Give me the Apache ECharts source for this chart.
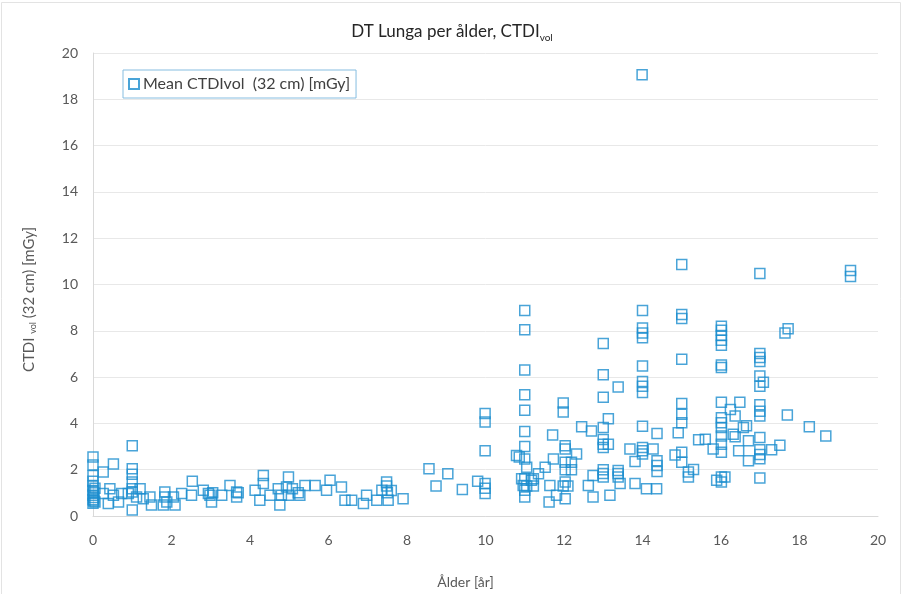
<!DOCTYPE html>
<html>
<head>
<meta charset="utf-8">
<script src="https://cdn.jsdelivr.net/npm/echarts@6/dist/echarts.min.js"></script>
<style>
  html, body { margin: 0; padding: 0; background: #ffffff; }
  #chart { width: 904px; height: 594px; }
</style>
</head>
<body>
<div id="chart"></div>
<script>
// Patient age in years and mean CTDIvol (32 cm phantom) in mGy, one entry per exam.
const ageYears = [
  0.0, 0.0, 0.0, 0.0, 0.0, 0.0, 0.0, 0.0, 0.0, 0.02, 0.02, 0.02, 0.05, 0.05,
  0.26, 0.26, 0.43, 0.39, 0.52, 0.52, 0.65, 0.73, 0.9,
  1.0, 1.0, 1.0, 1.0, 1.0, 1.0, 1.0, 1.11, 1.2, 1.28, 1.45, 1.49,
  1.79, 1.83, 1.83, 1.88, 2.05, 2.09, 2.26, 2.51, 2.53, 2.81, 2.94, 2.98, 3.02, 3.05,
  3.28, 3.49, 3.66, 3.66, 3.7,
  4.13, 4.34, 4.34, 4.25, 4.51, 4.72, 4.8, 4.76, 4.93, 4.98, 4.98, 5.08, 5.23, 5.27,
  5.4, 5.66, 5.95, 6.04, 6.33, 6.42, 6.59, 6.89, 6.97,
  7.23, 7.36, 7.48, 7.48, 7.5, 7.52, 7.6, 7.9,
  8.56, 8.74, 9.04, 9.41, 9.8,
  9.99, 9.99, 9.99, 9.99, 9.99, 9.99,
  10.79, 10.86, 10.92, 10.96,
  11.0, 11.0, 11.0, 11.0, 11.0, 11.0, 11.0, 11.0, 11.0, 11.0, 11.0,
  11.05, 11.05, 11.17, 11.22, 11.22, 11.35, 11.52, 11.62, 11.64, 11.71, 11.73, 11.81,
  11.98, 11.98, 11.98,
  12.03, 12.03, 12.03, 12.03, 12.03, 12.03, 12.1, 12.19, 12.19, 12.32, 12.45,
  12.62, 12.7, 12.74, 12.74,
  13.0, 13.0, 13.0, 13.0, 13.0, 13.0, 13.0, 13.0, 13.0, 13.0,
  13.13, 13.13, 13.17, 13.38, 13.38, 13.38, 13.38, 13.43, 13.68, 13.81, 13.81,
  13.99,
  14.0, 14.0, 14.0, 14.0, 14.0, 14.0, 14.0, 14.0, 14.0, 14.0, 14.0, 14.0,
  14.1, 14.27, 14.36, 14.37, 14.37, 14.37, 14.37,
  15.0, 15.0, 15.0, 15.0, 15.0, 15.0, 15.0, 15.0, 15.0,
  14.83, 14.91, 15.17, 15.17, 15.3, 15.43, 15.6, 15.8, 15.89,
  16.01, 16.01, 16.01, 16.01, 16.01, 16.01, 16.01, 16.01, 16.01, 16.01, 16.01, 16.01,
  16.01, 16.01, 16.01, 16.01,
  16.1, 16.24, 16.36, 16.36, 16.31, 16.48, 16.57, 16.65, 16.7, 16.7, 16.45,
  16.99, 16.99, 16.99, 16.99, 16.99, 16.99, 16.99, 16.99, 16.99, 16.99, 16.99, 16.99,
  16.99, 16.99,
  17.08, 17.29, 17.5, 17.63, 17.71, 17.69, 18.25, 18.67, 19.3, 19.3
];
const ctdiMgy = [
  2.55, 2.2, 1.75, 1.5, 1.3, 1.1, 0.9, 0.7, 0.55, 1.0, 0.8, 0.65, 1.2, 0.6,
  1.9, 0.97, 1.18, 0.54, 2.25, 0.9, 0.61, 0.97, 0.97,
  3.03, 2.04, 1.8, 1.47, 1.18, 1.04, 0.26, 0.82, 1.18, 0.75, 0.82, 0.47,
  0.47, 1.04, 0.82, 0.61, 0.82, 0.47, 0.97, 0.9, 1.5, 1.11, 0.97, 0.9, 0.61, 1.0,
  0.9, 1.32, 1.04, 0.82, 1.0,
  1.11, 1.75, 1.4, 0.68, 0.9, 1.18, 0.9, 0.47, 1.25, 1.68, 0.9, 1.18, 1.0, 0.9,
  1.32, 1.32, 1.11, 1.54, 1.25, 0.68, 0.68, 0.54, 0.9,
  0.68, 1.11, 1.47, 1.3, 1.0, 0.68, 1.1, 0.75,
  2.04, 1.3, 1.82, 1.15, 1.5,
  4.43, 4.06, 2.82, 1.4, 1.2, 0.97,
  2.61, 2.55, 1.61, 1.32,
  8.88, 8.05, 6.31, 5.24, 4.57, 3.65, 3.0, 2.46, 1.61, 1.11, 0.82,
  2.11, 1.3, 1.54, 1.61, 1.3, 1.82, 2.11, 0.61, 1.32, 3.5, 2.46, 0.9,
  4.88, 4.49, 1.3,
  3.03, 2.89, 2.32, 2.0, 1.47, 0.75, 1.3, 2.32, 2.0, 2.68, 3.86,
  1.32, 3.67, 1.75, 0.82,
  7.45, 6.1, 5.13, 3.82, 3.3, 3.1, 2.96, 2.0, 1.84, 1.68,
  4.2, 3.1, 0.9, 5.57, 1.97, 1.84, 1.68, 1.4, 2.89, 2.35, 1.4,
  19.06,
  8.88, 8.12, 7.9, 7.7, 6.48, 5.81, 5.6, 5.33, 3.88, 2.96, 2.82, 2.68,
  1.18, 2.89, 1.18, 3.56, 2.39, 2.18, 1.92,
  10.86, 8.7, 8.53, 6.77, 4.86, 4.39, 4.03, 2.75, 2.32,
  2.64, 3.6, 1.68, 1.9, 2.01, 3.29, 3.32, 2.89, 1.54,
  8.2, 8.02, 7.8, 7.59, 7.38, 6.52, 6.42, 4.91, 4.24, 4.03, 3.82, 3.46,
  3.1, 2.75, 1.68, 1.47,
  1.68, 4.6, 4.32, 3.42, 3.53, 4.91, 3.82, 3.9, 3.25, 2.39, 2.82,
  10.47, 7.02, 6.85, 6.67, 6.05, 5.6, 4.81, 4.53, 4.32, 3.39, 2.86, 2.66,
  2.47, 1.64,
  5.78, 2.86, 3.06, 7.9, 8.09, 4.36, 3.86, 3.46, 10.6, 10.35
];

const seriesName = 'Mean CTDIvol  (32 cm) [mGy]';
const xTicks = [0, 2, 4, 6, 8, 10, 12, 14, 16, 18, 20];
const yTicks = [0, 2, 4, 6, 8, 10, 12, 14, 16, 18, 20];

const markerColor = '#1c8dce';
const textColor = '#595959';
const fontFamily = 'Lato, "Open Sans", sans-serif';

const points = ageYears.map((a, i) => [a, ctdiMgy[i]]);

const chart = echarts.init(document.getElementById('chart'), null, { renderer: 'canvas' });

chart.setOption({
  backgroundColor: '#ffffff',
  animation: false,
  title: {
    text: '{m|DT Lunga per ålder, CTDI}{s|vol}',
    left: 'center',
    top: 16,
    textStyle: {
      fontWeight: 'normal',
      rich: {
        m: { fontFamily: fontFamily, fontSize: 17, fontWeight: 'normal', color: '#262626', lineHeight: 22, verticalAlign: 'middle' },
        s: { fontFamily: fontFamily, fontSize: 10, fontWeight: 'normal', color: '#262626', lineHeight: 10, verticalAlign: 'bottom' }
      }
    }
  },
  legend: {
    left: 123,
    top: 70,
    orient: 'vertical',
    padding: [6, 6, 6, 5],
    borderColor: '#86bde0',
    borderWidth: 1,
    itemWidth: 10,
    itemHeight: 10,
    itemGap: 4,
    textStyle: { fontFamily: fontFamily, fontSize: 16, color: '#404040', padding: [0, 0, 0, -1] },
    data: [{ name: seriesName, icon: 'rect' }]
  },
  grid: { left: 93, right: 26, top: 53, bottom: 70, containLabel: false },
  xAxis: {
    type: 'value',
    min: xTicks[0],
    max: xTicks[xTicks.length - 1],
    interval: 2,
    name: 'Ålder [år]',
    nameLocation: 'middle',
    nameGap: 59,
    nameTextStyle: { fontFamily: fontFamily, fontSize: 14, color: textColor, padding: [0, 40, 0, 0] },
    axisLine: { show: true, lineStyle: { color: '#d9d9d9', width: 1 } },
    axisTick: { show: false },
    axisLabel: { fontFamily: fontFamily, fontSize: 14, color: textColor, margin: 17 },
    splitLine: { show: false }
  },
  yAxis: {
    type: 'value',
    min: yTicks[0],
    max: yTicks[yTicks.length - 1],
    interval: 2,
    name: '{m|CTDI }{s|vol}{m| (32 cm) [mGy]}',
    nameLocation: 'middle',
    nameGap: 55,
    nameTextStyle: {
      padding: [0, 30, 0, 0],
      rich: {
        m: { fontFamily: fontFamily, fontSize: 15, color: textColor, lineHeight: 18, verticalAlign: 'middle' },
        s: { fontFamily: fontFamily, fontSize: 9, color: textColor, lineHeight: 9, verticalAlign: 'bottom' }
      }
    },
    axisLine: { show: true, lineStyle: { color: '#d9d9d9', width: 1 } },
    axisTick: { show: false },
    axisLabel: { fontFamily: fontFamily, fontSize: 14, color: textColor, margin: 15 },
    splitLine: { show: true, lineStyle: { color: '#e8e8e8', width: 1 } }
  },
  graphic: [{
    type: 'rect',
    shape: { x: 1.5, y: 2.5, width: 899, height: 600 },
    style: { fill: 'none', stroke: '#e3e3e3', lineWidth: 1 },
    silent: true
  }],
  series: [{
    name: seriesName,
    type: 'scatter',
    symbol: 'rect',
    symbolSize: 10,
    itemStyle: { color: 'rgba(255,255,255,0)', borderColor: markerColor, borderWidth: 1.5 },
    data: points
  }]
});
</script>
</body>
</html>
